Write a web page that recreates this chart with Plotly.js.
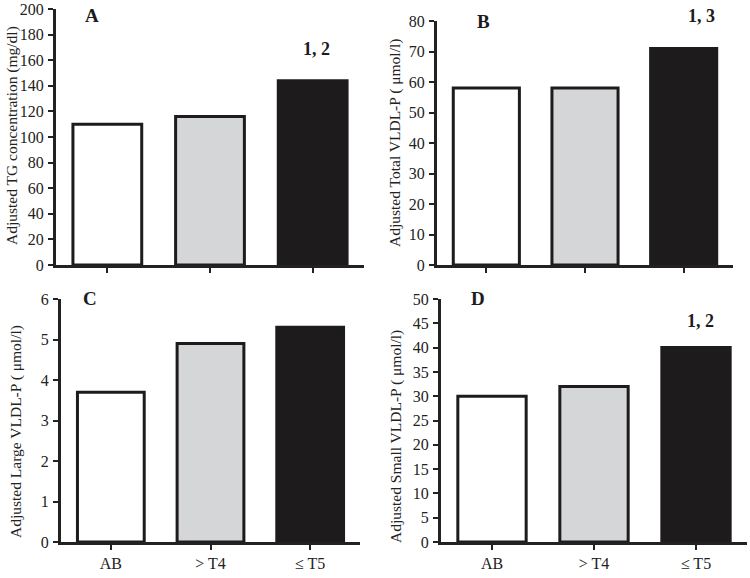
<!DOCTYPE html>
<html>
<head>
<meta charset="utf-8">
<script src="https://cdn.plot.ly/plotly-3.0.1.min.js"></script>
<style>html,body{margin:0;padding:0;background:#fff;}#chart{width:750px;height:578px;}</style>
</head>
<body>
<div id="chart"></div>
<script>
const categories = ["AB", "> T4", "≤ T5"];
const valuesA = [110, 116, 144];
const valuesB = [58, 58, 71];
const valuesC = [3.7, 4.9, 5.3];
const valuesD = [30, 32, 40];
const titleA = "Adjusted TG concentration (mg/dl)";
const titleB = "Adjusted Total VLDL-P ( μmol/l)";
const titleC = "Adjusted Large VLDL-P ( μmol/l)";
const titleD = "Adjusted Small VLDL-P ( μmol/l)";
const sigA = "1, 2";
const sigB = "1, 3";
const sigD = "1, 2";

const W = 750, H = 578;
const px = x => x / W;
const py = y => 1 - y / H;
const barColors = ["#ffffff", "#d5d6d8", "#1e1b1c"];
const FONT = "Liberation Serif, Times New Roman, serif";

function barTrace(vals, xa, ya) {
  return {
    type: "bar", x: [0, 1, 2], y: vals, xaxis: xa, yaxis: ya,
    width: 0.67,
    marker: {color: barColors, line: {color: "#1e1b1c", width: 3}},
    hoverinfo: "skip", showlegend: false, cliponaxis: false
  };
}

const data = [
  barTrace(valuesA, "x", "y"),
  barTrace(valuesB, "x2", "y2"),
  barTrace(valuesC, "x3", "y3"),
  barTrace(valuesD, "x4", "y4")
];

function xax(d0, d1, anchor, showLabels) {
  return {
    domain: [px(d0), px(d1)], anchor: anchor, range: [-0.5, 2.5],
    tickmode: "array", tickvals: [0, 1, 2], ticktext: showLabels ? categories : ["", "", ""],
    showticklabels: showLabels,
    ticks: "outside", ticklen: 5, tickwidth: 2, tickcolor: "#222",
    showline: true, linewidth: 3, linecolor: "#222",
    showgrid: false, zeroline: false, fixedrange: true,
    tickfont: {family: FONT, size: 16, color: "#222"}
  };
}
function yax(top, bottom, anchor, max, dtick) {
  return {
    domain: [py(bottom), py(top)], anchor: anchor, range: [0, max],
    dtick: dtick, tick0: 0,
    ticks: "outside", ticklen: 5, tickwidth: 2, tickcolor: "#222",
    showline: true, linewidth: 3, linecolor: "#222",
    showgrid: false, zeroline: false, fixedrange: true,
    ticklabeloverflow: "allow",
    ticklabelstandoff: 1,
    tickfont: {family: FONT, size: 16, color: "#222"}
  };
}

function ann(text, x, y, opts) {
  return Object.assign({
    text: text, xref: "paper", yref: "paper", x: px(x), y: py(y),
    xanchor: "center", yanchor: "middle", showarrow: false,
    font: {family: FONT, size: 17, color: "#1e1b1c"}
  }, opts || {});
}
function bold(t) { return "<b>" + t + "</b>"; }

const layout = {
  width: W, height: H,
  margin: {l: 0, r: 0, t: 0, b: 0},
  paper_bgcolor: "#ffffff", plot_bgcolor: "rgba(0,0,0,0)",
  xaxis: xax(56, 364, "y", false),
  yaxis: yax(9, 265, "x", 200, 20),
  xaxis2: xax(437, 733, "y2", false),
  yaxis2: yax(21, 265, "x2", 80, 10),
  xaxis3: xax(61, 360, "y3", true),
  yaxis3: yax(299, 542, "x3", 6, 1),
  xaxis4: xax(441, 747, "y4", true),
  yaxis4: yax(299, 542, "x4", 50, 5),
  annotations: [
    ann(bold("A"), 92, 16, {font: {family: FONT, size: 19, color: "#1e1b1c"}}),
    ann(bold("B"), 483, 21, {font: {family: FONT, size: 19, color: "#1e1b1c"}}),
    ann(bold("C"), 90, 298, {font: {family: FONT, size: 19, color: "#1e1b1c"}}),
    ann(bold("D"), 478, 298, {font: {family: FONT, size: 19, color: "#1e1b1c"}}),
    ann(bold(sigA), 316, 49, {font: {family: FONT, size: 18, color: "#1e1b1c"}}),
    ann(bold(sigB), 701, 16, {font: {family: FONT, size: 18, color: "#1e1b1c"}}),
    ann(bold(sigD), 700, 321, {font: {family: FONT, size: 18, color: "#1e1b1c"}}),
    ann(titleA, 12, 136, {textangle: -90, font: {family: FONT, size: 15.5, color: "#222"}}),
    ann(titleB, 395, 143, {textangle: -90, font: {family: FONT, size: 15.5, color: "#222"}}),
    ann(titleC, 16, 432, {textangle: -90, font: {family: FONT, size: 15.5, color: "#222"}}),
    ann(titleD, 396, 437, {textangle: -90, font: {family: FONT, size: 15.5, color: "#222"}})
  ]
};

Plotly.newPlot("chart", data, layout, {staticPlot: true, displayModeBar: false});
</script>
</body>
</html>
